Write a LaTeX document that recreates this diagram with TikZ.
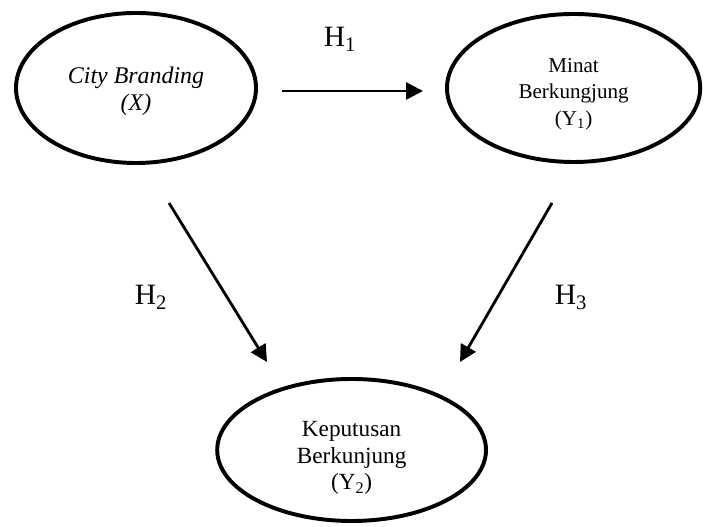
\documentclass[tikz,border=0pt]{standalone}
\usepackage{fontspec}
\setmainfont{Liberation Serif}
\usetikzlibrary{shapes.geometric,arrows.meta}

\begin{document}
\begin{tikzpicture}[
        var/.style={ellipse,draw,line width=2.8pt,inner sep=0pt},
        vartext/.style={align=center,inner sep=0pt},
        hyp/.style={-{Triangle[length=0.42cm,width=0.42cm]},line width=2pt},
        hlab/.style={anchor=base,font=\fontsize{21}{25}\selectfont}]
            \useasboundingbox (0,0) rectangle (17.6,13.175);

            % the three variables
            \node[var,minimum width=6cm,minimum height=3.75cm] (cb) at (3.4,10.975) {};
            \node[var,minimum width=6.33cm,minimum height=3.7cm] (minat) at (14.34,10.975) {};
            \node[var,minimum width=6.72cm,minimum height=3.55cm] (kep) at (8.79,1.925) {};

            \node[vartext,font=\fontsize{17}{19.5}\selectfont\itshape] (cbtext)
                at ([yshift=-0.08cm]cb.center) {City Branding\\(X)};
            \node[vartext,font=\fontsize{15}{18.7}\selectfont] (minattext)
                at ([yshift=-0.15cm]minat.center) {Minat\\Berkungjung\\(Y\textsubscript{1})};
            \node[vartext,font=\fontsize{16.5}{19}\selectfont] (keptext)
                at ([yshift=-0.2cm]kep.center) {Keputusan\\Berkunjung\\(Y\textsubscript{2})};

            % ends of the arrows
            \coordinate (h1s) at (7.05,10.9);
            \coordinate (h1e) at (10.575,10.9);
            \coordinate (h2s) at (4.225,8.1);
            \coordinate (h2e) at (6.675,4.125);
            \coordinate (h3s) at (13.8,8.1);
            \coordinate (h3e) at (11.5,4.125);

            \draw[hyp] (h1s) -- (h1e);
            \draw[hyp] (h2s) -- (h2e);
            \draw[hyp] (h3s) -- (h3e);

            \node[hlab] (lh1) at (8.5,12.0) {H\textsubscript{1}};
            \node[hlab] (lh2) at (3.775,5.55) {H\textsubscript{2}};
            \node[hlab] (lh3) at (14.275,5.55) {H\textsubscript{3}};
        \end{tikzpicture}
\end{document}
